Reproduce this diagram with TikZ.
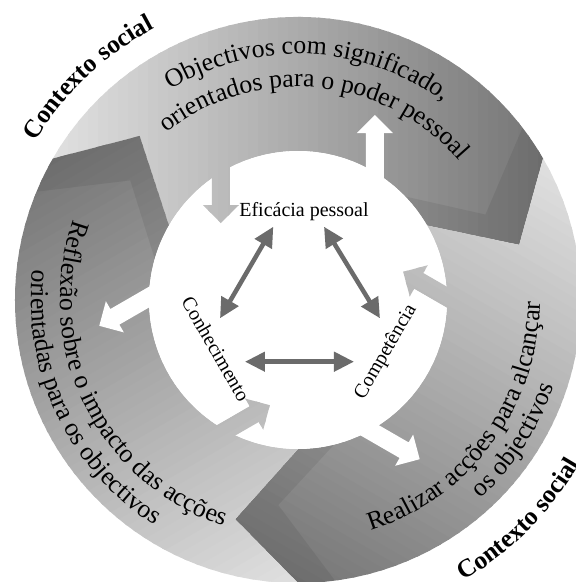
\documentclass[tikz,border=0pt]{standalone}
\usepackage{fontspec}
\setmainfont{Liberation Serif}
\usetikzlibrary{decorations.text,arrows.meta}
\definecolor{arrowgray}{HTML}{6B6B6B}
\newcommand\ringfont{\fontsize{25.8}{30}\selectfont}
\newcommand\ctxfont{\fontsize{25.5}{30}\selectfont\bfseries}
\newcommand\segbands{%
  \foreach \i in {0,...,57}{%
    \pgfmathsetmacro\p{min(54,max(12,12+(\i*10-40)/490*42))}%
    \fill[black!\p] ({-290+\i*10},-300) -- ({-277+\i*10},-300) -- ({-277+\i*10},300) -- ({-290+\i*10},300) -- cycle;
  }}
\begin{document}
\begin{tikzpicture}[x=1pt,y=1pt,
  labtext/.style={inner sep=0pt,font=\fontsize{20}{24}\selectfont},
  sidetext/.style={inner sep=0pt,font=\fontsize{20}{24}\selectfont},
  dblarrow/.style={draw=arrowgray,line width=4.5pt,
    arrows={Triangle[length=20pt,width=19pt]-Triangle[length=20pt,width=19pt]}},
  ringline/.style={decorate},
  facet/.style={fill=black,fill opacity=0.07},
]
\useasboundingbox (-298,-282) rectangle (278,300);
\clip (-298,-282) rectangle (278,300);

% ring segments (curved chevrons with gradient)
\foreach \k in {0,1,2}{
  \begin{scope}[rotate=-120*\k]
    \begin{scope}
      \clip (150:283) arc[start angle=150,end angle=30,radius=283] -- (14:228)
        -- (30:149) arc[start angle=30,end angle=150,radius=149] -- (134:228) -- cycle;
      \segbands
    \end{scope}
    \path[facet] (37.5:283) arc[start angle=37.5,end angle=30,radius=283] -- (14:228)
      -- (30:149) arc[start angle=30,end angle=44,radius=149] -- (24.5:206) -- cycle;
  \end{scope}
}

% inner white disc
\fill[white] (0,0) circle[radius=149];

% block arrows
\foreach \k in {0,1,2}{
  \begin{scope}[rotate=-120*\k]
    \begin{scope}
      \clip (-86,170) -- (-86,95) -- (-95,95) -- (-77,77) -- (-59,95) -- (-68,95) -- (-68,170) -- cycle;
      \segbands
    \end{scope}
    \fill[white] (68,110) -- (68,167) -- (59,167) -- (77,185) -- (95,167) -- (86,167) -- (86,110) -- cycle;
  \end{scope}
}

% centre labels
\node[labtext,anchor=base] (eff) at (6,83.5) {Eficácia pessoal};
\node[sidetext,rotate=-60] (con) at (-82,-49) {Conhecimento};
\node[sidetext,rotate=60] (com) at (88,-52) {Competência};

\coordinate (a1) at (-24.7,73.3); \coordinate (a2) at (-78,-18.3);
\coordinate (b1) at (26,73.3);    \coordinate (b2) at (82,-18.3);
\coordinate (c1) at (-53,-61.7);  \coordinate (c2) at (56,-61.7);
\draw[dblarrow] (a1) -- (a2);
\draw[dblarrow] (b1) -- (b2);
\draw[dblarrow] (c1) -- (c2);

% ring texts
\path[ringline,decoration={text along path,text align=center,
  text={|\ringfont|Objectivos com significado,}}]
  (167.5:246) arc[start angle=167.5,end angle=7.5,radius=246];
\path[ringline,decoration={text along path,text align=center,
  text={|\ringfont|orientados para o poder pessoal}}]
  (164.5:213) arc[start angle=164.5,end angle=4.5,radius=213];

\path[ringline,decoration={text along path,text align=center,
  text={|\ringfont|Realizar acções para alcançar}}]
  (-116.5:242) arc[start angle=-116.5,end angle=43.5,radius=242];
\path[ringline,decoration={text along path,text align=center,
  text={|\ringfont|os objectivos}}]
  (-113:270) arc[start angle=-113,end angle=47,radius=270];

\path[ringline,decoration={text along path,text align=center,
  text={|\ringfont|Reflexão sobre o impacto das acções}}]
  (126:238) arc[start angle=126,end angle=286,radius=238];
\path[ringline,decoration={text along path,text align=center,
  text={|\ringfont|orientadas para os objectivos}}]
  (125.5:267) arc[start angle=125.5,end angle=285.5,radius=267];

\path[ringline,decoration={text along path,text align=center,
  text={|\ctxfont|Contexto social}}]
  (183.3:307) arc[start angle=183.3,end angle=83.3,radius=307];
\path[ringline,decoration={text along path,text align=center,
  text={|\ctxfont|Contexto social}}]
  (-94.85:326) arc[start angle=-94.85,end angle=5.15,radius=326];
\end{tikzpicture}
\end{document}
